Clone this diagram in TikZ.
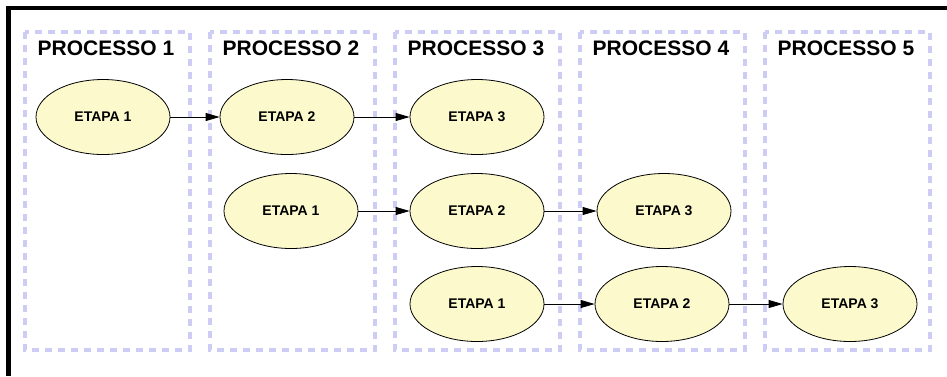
\documentclass[tikz,border=0pt]{standalone}
\usepackage{fontspec}
\setmainfont{Liberation Sans}
\usetikzlibrary{arrows.meta,shapes.geometric}
\definecolor{clusterline}{RGB}{204,204,244}
\definecolor{stagefill}{RGB}{252,250,204}
\tikzset{
  cluster/.style={draw=clusterline, line width=3.5pt, dash pattern=on 7pt off 6pt},
  ctitle/.style={font=\fontsize{21}{23}\selectfont\bfseries, inner sep=0pt},
  stage/.style={ellipse, draw=black, line width=0.8pt, fill=stagefill,
    minimum width=134pt, minimum height=75pt, inner sep=0pt,
    font=\fontsize{14}{16}\selectfont\bfseries},
  flow/.style={-{Triangle[length=14pt,width=8pt]}, line width=0.8pt, black}
}
\begin{document}
\begin{tikzpicture}[x=1pt,y=-1pt]
  \useasboundingbox (0,0) rectangle (947,376);
  % frame edges
  \draw[line width=4pt] (8,7.5) -- (947,7.5);
  \draw[line width=5pt] (8,5.5) -- (8,376);
  % process columns
  \foreach \i/\x in {1/25,2/210,3/395,4/580,5/765}{
    \draw[cluster] (\x,32) rectangle ++(165,318);
    \node[ctitle] (t\i) at (\x+81,48) {PROCESSO \i};
  }
  % stages
  \node[stage] (a1) at (103,117) {ETAPA 1};
  \node[stage] (a2) at (287,117) {ETAPA 2};
  \node[stage] (a3) at (477,117) {ETAPA 3};
  \node[stage] (b1) at (291,211) {ETAPA 1};
  \node[stage] (b2) at (477,211) {ETAPA 2};
  \node[stage] (b3) at (664,211) {ETAPA 3};
  \node[stage] (c1) at (477,304) {ETAPA 1};
  \node[stage] (c2) at (662,304) {ETAPA 2};
  \node[stage] (c3) at (850,304) {ETAPA 3};
  % transitions
  \draw[flow] (a1) -- (a2);
  \draw[flow] (a2) -- (a3);
  \draw[flow] (b1) -- (b2);
  \draw[flow] (b2) -- (b3);
  \draw[flow] (c1) -- (c2);
  \draw[flow] (c2) -- (c3);
\end{tikzpicture}
\end{document}
